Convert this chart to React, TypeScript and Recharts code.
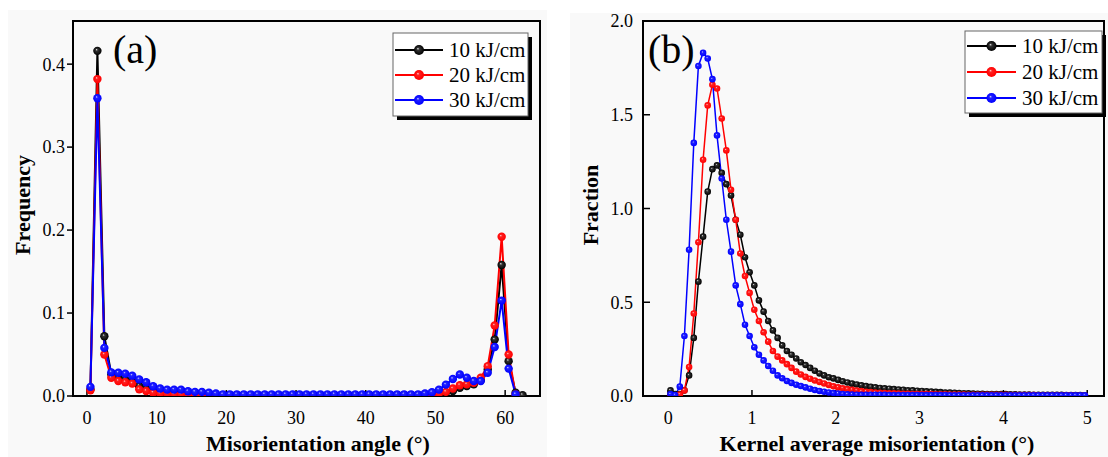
import { LineChart, Line, XAxis, YAxis, ReferenceArea } from "recharts";

// (a) misorientation angle distribution, bin centres in degrees
const MIS_ANGLE = [
  0.5, 1.5, 2.5, 3.5, 4.5, 5.5, 6.5, 7.5, 8.5, 9.5,
  10.5, 11.5, 12.5, 13.5, 14.5, 15.5, 16.5, 17.5, 18.5, 19.5,
  20.5, 21.5, 22.5, 23.5, 24.5, 25.5, 26.5, 27.5, 28.5, 29.5,
  30.5, 31.5, 32.5, 33.5, 34.5, 35.5, 36.5, 37.5, 38.5, 39.5,
  40.5, 41.5, 42.5, 43.5, 44.5, 45.5, 46.5, 47.5, 48.5, 49.5,
  50.5, 51.5, 52.5, 53.5, 54.5, 55.5, 56.5, 57.5, 58.5, 59.5,
  60.5, 61.5, 62.5,
];
const MIS_10 = [
  0.008, 0.416, 0.072, 0.026, 0.022, 0.02, 0.018, 0.012, 0.009, 0.007,
  0.005, 0.004, 0.004, 0.003, 0.003, 0.002, 0.002, 0.002, 0.001, 0.001,
  0.001, 0.001, 0.001, 0.001, 0.001, 0.001, 0.001, 0.001, 0.001, 0.001,
  0.001, 0.001, 0.001, 0.001, 0.001, 0.001, 0.001, 0.001, 0.001, 0.001,
  0.001, 0.001, 0.001, 0.001, 0.001, 0.001, 0.001, 0.001, 0.002, 0.002,
  0.003, 0.004, 0.006, 0.01, 0.012, 0.014, 0.019, 0.032, 0.068, 0.158,
  0.042, 0.004, 0.001,
];
const MIS_20 = [
  0.007, 0.382, 0.05, 0.022, 0.018, 0.0165, 0.015, 0.008, 0.006, 0.004,
  0.003, 0.003, 0.002, 0.002, 0.002, 0.001, 0.001, 0.001, 0.001, 0.001,
  0.001, 0.001, 0.001, 0.001, 0.001, 0.001, 0.001, 0.001, 0.001, 0.001,
  0.001, 0.001, 0.001, 0.001, 0.001, 0.001, 0.001, 0.001, 0.001, 0.001,
  0.001, 0.001, 0.001, 0.001, 0.001, 0.001, 0.001, 0.001, 0.002, 0.002,
  0.003, 0.005, 0.009, 0.013, 0.014, 0.016, 0.022, 0.036, 0.085, 0.192,
  0.05, 0.002, null,
];
const MIS_30 = [
  0.011, 0.359, 0.058, 0.0285, 0.028, 0.027, 0.0245, 0.02, 0.0165, 0.0117,
  0.009, 0.0077, 0.0077, 0.0077, 0.0057, 0.005, 0.005, 0.004, 0.003, 0.002,
  0.002, 0.002, 0.002, 0.002, 0.002, 0.002, 0.002, 0.002, 0.002, 0.002,
  0.002, 0.002, 0.002, 0.002, 0.002, 0.002, 0.002, 0.002, 0.002, 0.002,
  0.002, 0.002, 0.002, 0.002, 0.002, 0.002, 0.002, 0.002, 0.003, 0.0045,
  0.0077, 0.0137, 0.0205, 0.026, 0.022, 0.018, 0.018, 0.028, 0.059, 0.115,
  0.033, 0.002, null,
];

// (b) kernel average misorientation, bin centres in degrees
const KAM = [
  0.028, 0.083, 0.139, 0.194, 0.25, 0.306, 0.361, 0.417, 0.472, 0.528,
  0.583, 0.639, 0.694, 0.75, 0.806, 0.861, 0.917, 0.972, 1.028, 1.083,
  1.139, 1.194, 1.25, 1.306, 1.361, 1.417, 1.472, 1.528, 1.583, 1.639,
  1.694, 1.75, 1.806, 1.861, 1.917, 1.972, 2.028, 2.083, 2.139, 2.194,
  2.25, 2.306, 2.361, 2.417, 2.472, 2.528, 2.583, 2.639, 2.694, 2.75,
  2.806, 2.861, 2.917, 2.972, 3.028, 3.083, 3.139, 3.194, 3.25, 3.306,
  3.361, 3.417, 3.472, 3.528, 3.583, 3.639, 3.694, 3.75, 3.806, 3.861,
  3.917, 3.972, 4.028, 4.083, 4.139, 4.194, 4.25, 4.306, 4.361, 4.417,
  4.472, 4.528, 4.583, 4.639, 4.694, 4.75, 4.806, 4.861, 4.917, 4.972,
];
const KAM_10 = [
  0.03, 0.01, 0.01, 0.03, 0.11, 0.31, 0.61, 0.85, 1.09, 1.21,
  1.23, 1.19, 1.13, 1.07, 0.94, 0.86, 0.74, 0.66, 0.59, 0.51,
  0.45, 0.4, 0.35, 0.31, 0.27, 0.24, 0.22, 0.2, 0.18, 0.165,
  0.15, 0.135, 0.12, 0.11, 0.1, 0.094, 0.086, 0.079, 0.072, 0.066,
  0.061, 0.057, 0.053, 0.049, 0.046, 0.043, 0.041, 0.039, 0.037, 0.035,
  0.033, 0.031, 0.03, 0.028, 0.027, 0.025, 0.024, 0.022, 0.021, 0.019,
  0.018, 0.017, 0.016, 0.015, 0.014, 0.013, 0.012, 0.012, 0.011, 0.011,
  0.01, 0.01, 0.01, 0.009, 0.009, 0.008, 0.008, 0.008, 0.007, 0.007,
  0.007, 0.006, 0.006, 0.006, 0.006, 0.005, 0.005, 0.005, 0.005, 0.004,
];
const KAM_20 = [
  0.003, 0.003, 0.008, 0.03, 0.155, 0.44, 0.82, 1.26, 1.55, 1.66,
  1.64, 1.48, 1.31, 1.1, 0.94, 0.76, 0.64, 0.55, 0.46, 0.4,
  0.34, 0.29, 0.24, 0.21, 0.19, 0.17, 0.15, 0.13, 0.115, 0.102,
  0.092, 0.083, 0.075, 0.067, 0.059, 0.052, 0.046, 0.041, 0.037, 0.033,
  0.029, 0.026, 0.023, 0.021, 0.019, 0.017, 0.016, 0.015, 0.014, 0.013,
  0.012, 0.012, 0.011, 0.011, 0.01, 0.01, 0.01, 0.009, 0.009, 0.009,
  0.008, 0.008, 0.008, 0.008, 0.007, 0.007, 0.007, 0.007, 0.006, 0.006,
  0.006, 0.006, 0.006, 0.005, 0.005, 0.005, 0.005, 0.005, 0.005, 0.004,
  0.004, 0.004, 0.004, 0.004, 0.004, 0.004, 0.004, 0.003, 0.003, 0.003,
];
const KAM_30 = [
  0.01, 0.005, 0.05, 0.32, 0.78, 1.35, 1.76, 1.83, 1.8, 1.69,
  1.39, 1.16, 0.94, 0.77, 0.59, 0.49, 0.38, 0.32, 0.26, 0.22,
  0.19, 0.16, 0.135, 0.11, 0.095, 0.08, 0.07, 0.06, 0.053, 0.046,
  0.039, 0.032, 0.027, 0.023, 0.019, 0.016, 0.013, 0.011, 0.009, 0.008,
  0.007, 0.006, 0.006, 0.006, 0.006, 0.006, 0.006, 0.005, 0.005, 0.005,
  0.005, 0.005, 0.005, 0.005, 0.005, 0.005, 0.005, 0.005, 0.005, 0.005,
  0.004, 0.004, 0.004, 0.004, 0.004, 0.004, 0.004, 0.004, 0.004, 0.004,
  0.004, 0.004, 0.004, 0.004, 0.004, 0.004, 0.004, 0.004, 0.004, 0.004,
  0.004, 0.004, 0.004, 0.004, 0.004, 0.004, 0.004, 0.004, 0.004, 0.004,
];

const SERIES = [
  { key: "s10", name: "10 kJ/cm", color: "#000000", hi: "#e0e0e0", mid: "#333333" },
  { key: "s20", name: "20 kJ/cm", color: "#ff0000", hi: "#ffd0d0", mid: "#ff2020" },
  { key: "s30", name: "30 kJ/cm", color: "#0000ff", hi: "#d0d0ff", mid: "#2020ff" },
];

const misData = MIS_ANGLE.map((x, i) => ({ x, s10: MIS_10[i], s20: MIS_20[i], s30: MIS_30[i] }));
const kamData = KAM.map((x, i) => ({ x, s10: KAM_10[i], s20: KAM_20[i], s30: KAM_30[i] }));

const FONT = "'Liberation Serif', 'Times New Roman', serif";
const tickStyle = { fill: "#000", fontSize: 18, fontFamily: FONT };

function BallDefs({ prefix }: { prefix: string }) {
  return (
    <defs>
      {SERIES.map((s) => (
        <radialGradient key={s.key} id={`${prefix}-${s.key}`} cx="0.5" cy="0.5" r="0.5" fx="0.38" fy="0.34">
          <stop offset="0%" stopColor={s.hi} />
          <stop offset="28%" stopColor={s.mid} />
          <stop offset="100%" stopColor={s.color} />
        </radialGradient>
      ))}
    </defs>
  );
}

function Legend({ x, y, w, h, rows, lx1, lx2, tx, prefix }: any) {
  const mx = (lx1 + lx2) / 2;
  return (
    <g>
      <rect x={x + 4} y={y + 4} width={w} height={h} fill="#000" />
      <rect x={x} y={y} width={w} height={h} fill="#fff" stroke="#666" strokeWidth={1} />
      {SERIES.map((s, i) => (
        <g key={s.key}>
          <line x1={lx1} x2={lx2} y1={rows[i]} y2={rows[i]} stroke={s.color} strokeWidth={2} />
          <circle cx={mx} cy={rows[i]} r={5} fill={`url(#${prefix}-${s.key})`} />
          <text x={tx} y={rows[i] + 7} fontSize={21} fontFamily={FONT} fill="#000">
            {s.name}
          </text>
        </g>
      ))}
    </g>
  );
}

export default function App() {
  return (
    <div style={{ position: "absolute", left: 0, top: 0, width: 1108, height: 457, background: "#fff", overflow: "hidden" }}>
      <div style={{ position: "absolute", left: 8, top: 10, width: 539, height: 447, background: "#f9f9f9" }} />
      <div style={{ position: "absolute", left: 570, top: 13, width: 538, height: 444, background: "#f9f9f9" }} />

      <div style={{ position: "absolute", left: 0, top: 0 }}>
        <LineChart width={550} height={457} data={misData} margin={{ top: 21, right: 10, bottom: 31, left: 13 }}>
          <BallDefs prefix="ga" />
          <XAxis
            dataKey="x"
            type="number"
            domain={[-2, 65]}
            allowDataOverflow
            ticks={[0, 10, 20, 30, 40, 50, 60]}
            height={30}
            axisLine={false}
            tickSize={-6}
            tickMargin={21}
            tickLine={{ stroke: "#000", strokeWidth: 1.5 }}
            tick={tickStyle}
          />
          <YAxis
            type="number"
            domain={[0, 0.452]}
            allowDataOverflow
            ticks={[0, 0.1, 0.2, 0.3, 0.4]}
            tickFormatter={(v: number) => v.toFixed(1)}
            width={60}
            axisLine={false}
            tickSize={6}
            tickMargin={2}
            tickLine={{ stroke: "#000", strokeWidth: 1.5 }}
            tick={tickStyle}
          />
          {SERIES.map((s) => (
            <Line
              key={s.key}
              dataKey={s.key}
              type="linear"
              stroke={s.color}
              strokeWidth={2}
              dot={{ r: 4.2, fill: `url(#ga-${s.key})`, stroke: "none" }}
              activeDot={false}
              isAnimationActive={false}
            />
          ))}
          <ReferenceArea x1={-2} x2={65} y1={0} y2={0.452} fill="none" stroke="#000" strokeWidth={2} ifOverflow="visible" />
        </LineChart>
      </div>

      <div style={{ position: "absolute", left: 580, top: 0 }}>
        <LineChart width={528} height={457} data={kamData} margin={{ top: 21, right: 4, bottom: 31, left: 3 }}>
          <BallDefs prefix="gb" />
          <XAxis
            dataKey="x"
            type="number"
            domain={[-0.3, 5.2]}
            allowDataOverflow
            ticks={[0, 1, 2, 3, 4, 5]}
            height={30}
            axisLine={false}
            tickSize={-6}
            tickMargin={21}
            tickLine={{ stroke: "#000", strokeWidth: 1.5 }}
            tick={tickStyle}
          />
          <YAxis
            type="number"
            domain={[0, 2]}
            allowDataOverflow
            ticks={[0, 0.5, 1, 1.5, 2]}
            tickFormatter={(v: number) => v.toFixed(1)}
            width={60}
            axisLine={false}
            tickSize={-7}
            tickMargin={17}
            tickLine={{ stroke: "#000", strokeWidth: 1.5 }}
            tick={tickStyle}
          />
          {SERIES.map((s) => (
            <Line
              key={s.key}
              dataKey={s.key}
              type="linear"
              stroke={s.color}
              strokeWidth={1.5}
              dot={{ r: 3.3, fill: `url(#gb-${s.key})`, stroke: "none" }}
              activeDot={false}
              isAnimationActive={false}
            />
          ))}
          <ReferenceArea x1={-0.3} x2={5.2} y1={0} y2={2} fill="none" stroke="#000" strokeWidth={2} ifOverflow="visible" />
        </LineChart>
      </div>

      <svg width={1108} height={457} style={{ position: "absolute", left: 0, top: 0, pointerEvents: "none" }}>
        <text x={113} y={63} fontSize={40} fontFamily={FONT} fill="#000">(a)</text>
        <text x={648} y={63} fontSize={40} fontFamily={FONT} fill="#000">(b)</text>
        <text x={318} y={451} textAnchor="middle" fontSize={22} fontWeight="bold" fontFamily={FONT} fill="#000">
          Misorientation angle (°)
        </text>
        <text x={877} y={451} textAnchor="middle" fontSize={22} fontWeight="bold" fontFamily={FONT} fill="#000">
          Kernel average misorientation (°)
        </text>
        <text x={30} y={205} transform="rotate(-90 30 205)" textAnchor="middle" fontSize={22} fontWeight="bold" fontFamily={FONT} fill="#000">
          Frequency
        </text>
        <text x={598} y={205} transform="rotate(-90 598 205)" textAnchor="middle" fontSize={22} fontWeight="bold" fontFamily={FONT} fill="#000">
          Fraction
        </text>
        <Legend x={393} y={33} w={135} h={83} rows={[50, 75, 100]} lx1={395} lx2={443} tx={449} prefix="ga" />
        <Legend x={965} y={31} w={137} h={82} rows={[46, 72, 98]} lx1={967} lx2={1016} tx={1022} prefix="gb" />
      </svg>
    </div>
  );
}
